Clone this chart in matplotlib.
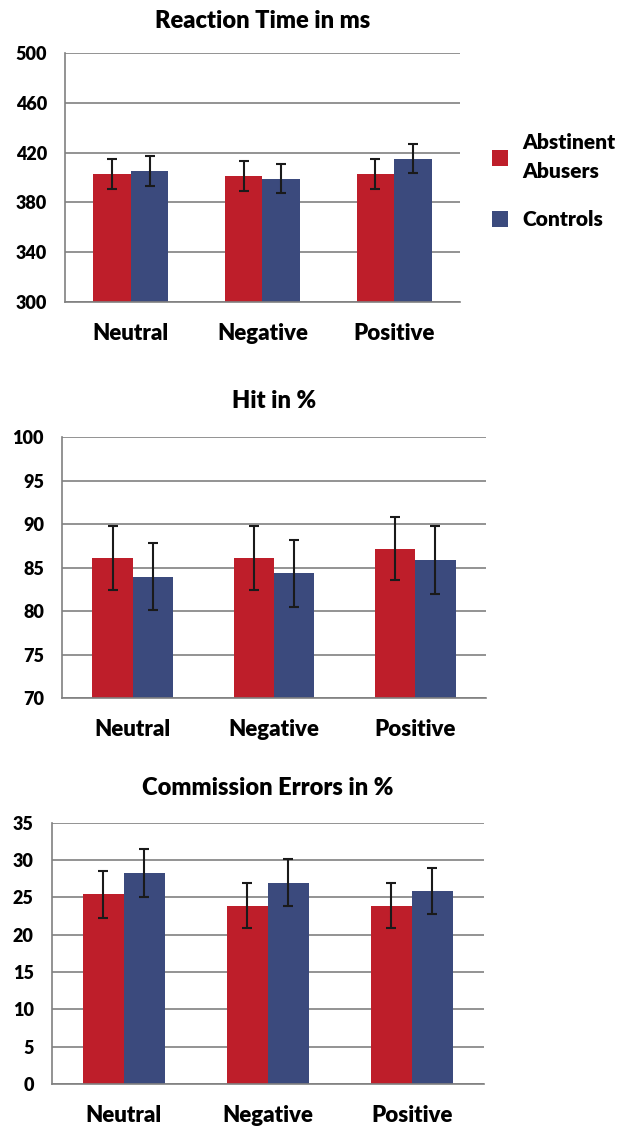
import numpy as np
from matplotlib import pyplot as plt

plt.rcParams['font.family'] = ['Lato', 'DejaVu Sans']
plt.rcParams['font.weight'] = 'heavy'

# Conditions et groupes
conditions = ["Neutral", "Negative", "Positive"]
groups = ["Abstinent\nAbusers", "Controls"]
colors = ["#BE1E2A", "#3B4A7D"]

# Temps de réaction (ms)
rt_abusers = [403, 401.5, 403]
rt_abusers_err = [12, 12, 12]
rt_controls = [405.5, 399, 415]
rt_controls_err = [12, 11.5, 11.5]

# Hits (%)
hit_abusers = [86.1, 86.1, 87.2]
hit_abusers_err = [3.65, 3.65, 3.65]
hit_controls = [84.0, 84.4, 85.9]
hit_controls_err = [3.8, 3.85, 3.95]

# Erreurs de commission (%)
ce_abusers = [25.4, 23.9, 23.9]
ce_abusers_err = [3.1, 3.0, 3.0]
ce_controls = [28.3, 27.0, 25.9]
ce_controls_err = [3.2, 3.1, 3.1]

panels = [
    ("Reaction Time in ms", rt_abusers, rt_abusers_err, rt_controls, rt_controls_err,
     (300, 500), [300, 340, 380, 420, 460, 500], [0.1028, 0.7335, 0.625, 0.2198], 18),
    ("Hit in %", hit_abusers, hit_abusers_err, hit_controls, hit_controls_err,
     (70, 100), [70, 75, 80, 85, 90, 95, 100], [0.0981, 0.3837, 0.6709, 0.2303], 21),
    ("Commission Errors in %", ce_abusers, ce_abusers_err, ce_controls, ce_controls_err,
     (0, 35), [0, 5, 10, 15, 20, 25, 30, 35], [0.0818, 0.0433, 0.6835, 0.2304], 20),
]

fig = plt.figure(figsize=(6.32, 11.33), dpi=100)
x = np.arange(len(conditions))
w = 0.285

axes = []
for title, a, a_err, c, c_err, ylim, ticks, rect, tpad in panels:
    ax = fig.add_axes(rect)
    ax.bar(x - w / 2, a, w, color=colors[0], label=groups[0], zorder=2)
    ax.bar(x + w / 2, c, w, color=colors[1], label=groups[1], zorder=2)
    for off, vals, errs in [(-w / 2, a, a_err), (w / 2, c, c_err)]:
        ax.errorbar(x + off, vals, yerr=errs, fmt="none", ecolor="#1a1a1a",
                    elinewidth=1.5, capsize=3.5, capthick=1.5, zorder=3)
    ax.set_ylim(*ylim)
    ax.set_yticks(ticks)
    ax.set_xlim(-0.5, 2.5)
    ax.set_xticks(x)
    ax.set_xticklabels(conditions, fontsize=16, fontweight="heavy")
    ax.tick_params(axis="y", length=0, pad=13, labelsize=13)
    ax.tick_params(axis="x", length=0, pad=15)
    ax.yaxis.grid(True, color="#808080", linewidth=1.2, zorder=0)
    ax.set_axisbelow(True)
    for s in ["top", "right"]:
        ax.spines[s].set_visible(False)
    ax.spines["left"].set_color("#808080")
    ax.spines["bottom"].set_color("#808080")
    ax.spines["left"].set_linewidth(1.2)
    ax.spines["bottom"].set_linewidth(1.2)
    ax.set_title(title, fontsize=17, fontweight="heavy", pad=tpad)
    axes.append(ax)

leg = axes[0].legend(loc="upper left", bbox_to_anchor=(1.06, 0.71), frameon=False,
                     fontsize=15, handlelength=0.75, handleheight=0.75, handletextpad=0.7,
                     labelspacing=1.4, borderaxespad=0)
for t in leg.get_texts():
    t.set_linespacing(1.6)

plt.savefig("out.png", dpi=100)
